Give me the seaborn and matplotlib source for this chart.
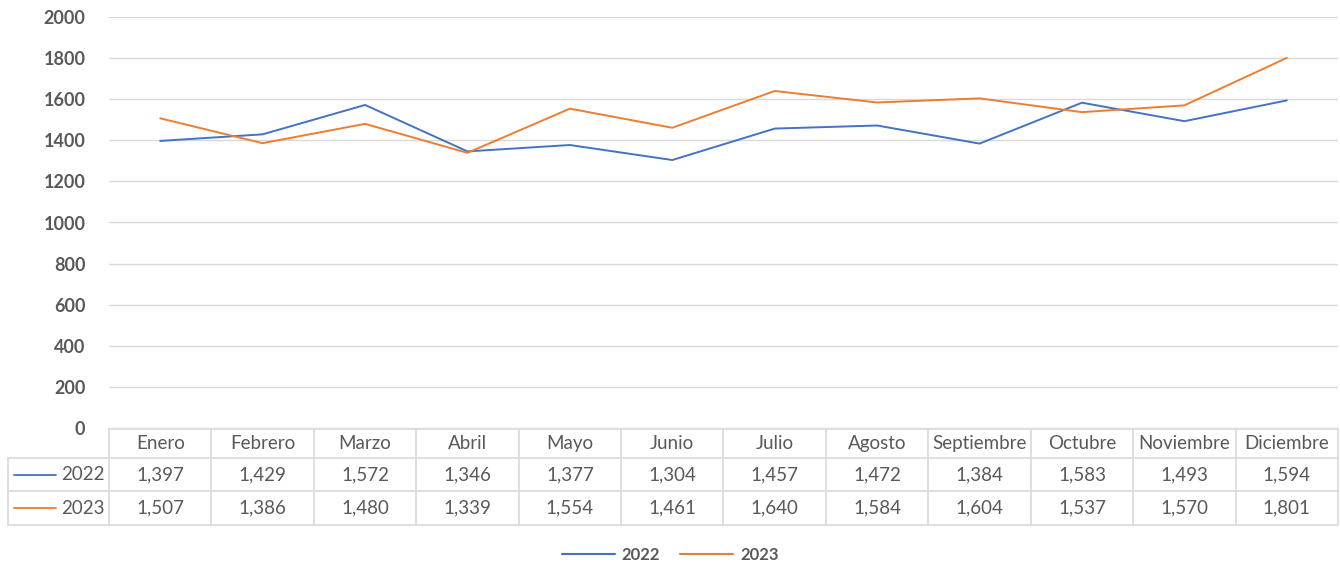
import matplotlib
matplotlib.use("Agg")
from matplotlib import pyplot as plt
from matplotlib.lines import Line2D
import seaborn as sns
import pandas as pd

meses = ["Enero", "Febrero", "Marzo", "Abril", "Mayo", "Junio", "Julio",
         "Agosto", "Septiembre", "Octubre", "Noviembre", "Diciembre"]
ventas_2022 = [1397, 1429, 1572, 1346, 1377, 1304, 1457, 1472, 1384, 1583, 1493, 1594]
ventas_2023 = [1507, 1386, 1480, 1339, 1554, 1461, 1640, 1584, 1604, 1537, 1570, 1801]
series = ["2022", "2023"]
y_ticks = [0, 200, 400, 600, 800, 1000, 1200, 1400, 1600, 1800, 2000]

colors = {"2022": "#4472C4", "2023": "#ED7D31"}
text_color = "#595959"
grid_color = "#D9D9D9"

sns.set_style("white")
plt.rcParams['font.family'] = ['Lato', 'DejaVu Sans']

W, H = 1340, 564
fig = plt.figure(figsize=(W / 100, H / 100), dpi=100)

# plot area in pixels
left_px, right_px, top_px, bottom_px = 109, 1338, 17, 428


def fx(px):
    return px / W


def fy(py):
    return 1 - py / H


ax = fig.add_axes([fx(left_px), fy(bottom_px), fx(right_px) - fx(left_px), fy(top_px) - fy(bottom_px)])

df = pd.DataFrame({
    "mes": list(range(len(meses))) * 2,
    "valor": ventas_2022 + ventas_2023,
    "serie": ["2022"] * len(meses) + ["2023"] * len(meses),
})
sns.lineplot(data=df, x="mes", y="valor", hue="serie", palette=colors,
             linewidth=1.4, ax=ax, legend=False)

ax.set_xlim(-0.5, len(meses) - 0.5)
ax.set_ylim(0, 2000)
ax.set_yticks(y_ticks)
ax.set_yticklabels([str(t) for t in y_ticks], fontsize=13, fontweight="bold", color=text_color)
ax.set_xticks([])
ax.set_xlabel("")
ax.set_ylabel("")
ax.tick_params(axis="y", length=0, pad=17)
ax.yaxis.grid(True, color=grid_color, linewidth=1)
for s in ax.spines.values():
    s.set_visible(False)

# data table below the plot
col_w = (right_px - left_px) / len(meses)
row_tops = [429, 458, 491, 525]
label_left = 8
lkw = dict(color=grid_color, linewidth=1.2, transform=fig.transFigure)

# horizontal lines
fig.add_artist(Line2D([fx(left_px), fx(right_px)], [fy(row_tops[0])] * 2, **lkw))
for r in row_tops[1:]:
    fig.add_artist(Line2D([fx(label_left), fx(right_px)], [fy(r)] * 2, **lkw))
# vertical lines
for i in range(len(meses) + 1):
    xp = left_px + i * col_w
    fig.add_artist(Line2D([fx(xp)] * 2, [fy(row_tops[0]), fy(row_tops[-1])], **lkw))
fig.add_artist(Line2D([fx(label_left)] * 2, [fy(row_tops[1]), fy(row_tops[-1])], **lkw))

fs = 13.5
for i, m in enumerate(meses):
    xc = left_px + (i + 0.5) * col_w
    fig.text(fx(xc), fy((row_tops[0] + row_tops[1]) / 2), m, ha="center", va="center",
             fontsize=fs, color=text_color)
    for j, vals in enumerate([ventas_2022, ventas_2023]):
        fig.text(fx(xc), fy((row_tops[j + 1] + row_tops[j + 2]) / 2), f"{vals[i]:,}",
                 ha="center", va="center", fontsize=fs, color=text_color)

for j, s in enumerate(series):
    yc = fy((row_tops[j + 1] + row_tops[j + 2]) / 2)
    fig.add_artist(Line2D([fx(14), fx(56)], [yc, yc], color=colors[s], linewidth=1.3,
                          transform=fig.transFigure))
    fig.text(fx(105), yc, s, ha="right", va="center", fontsize=fs, color=text_color)

# legend
handles = [Line2D([0], [0], color=colors[s], linewidth=1.5) for s in series]
leg = fig.legend(handles, series, loc="center", bbox_to_anchor=(0.5, fy(555)), ncol=2,
                 frameon=False, handlelength=3.2, columnspacing=1.2, handletextpad=0.4,
                 prop={"weight": "bold", "size": 12})
for t in leg.get_texts():
    t.set_color(text_color)

fig.savefig("out.png", dpi=100)
